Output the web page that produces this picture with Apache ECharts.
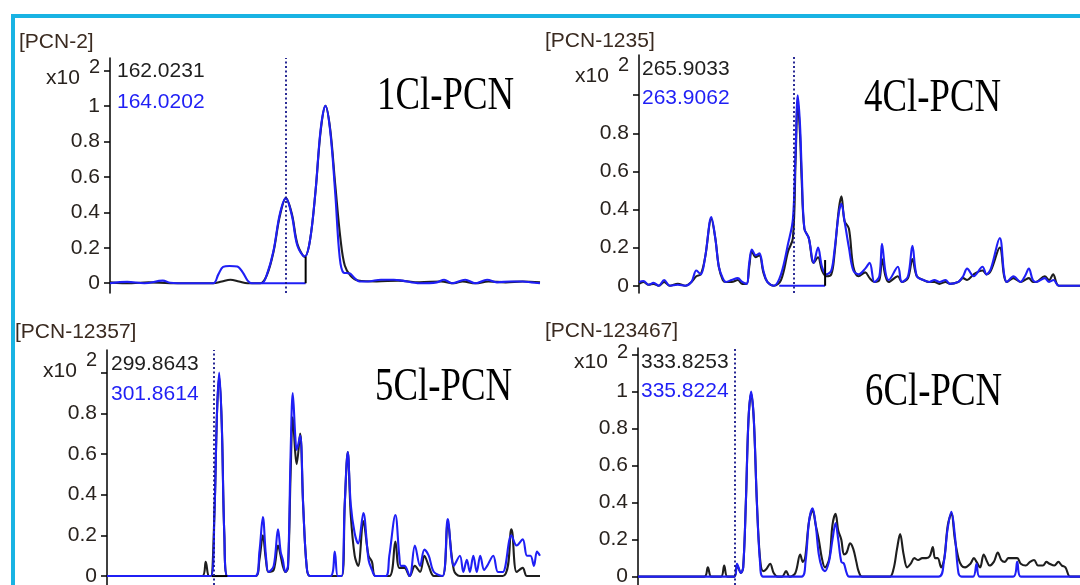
<!DOCTYPE html>
<html lang="en">
<head>
<meta charset="UTF-8">
<title>PCN extracted ion chromatograms</title>
<script src="https://cdn.jsdelivr.net/npm/echarts@6/dist/echarts.min.js"></script>
<style>
  html, body { margin: 0; padding: 0; background: #fff; }
  #main { width: 1080px; height: 585px; }
</style>
</head>
<body>
<div id="main"></div>
<script>
// x = relative retention position across each panel (0-100), y = abundance (x10^2)

// [PCN-2]  162.0231 / 164.0202
var p1Black = [[0,0.005],[5,0],[9,0.005],[14,0],[20,0],[24,0],[26,0.01],[28,0.02],[30,0.01],[32,0],[35,0],
  [36.5,0.047],[38,0.175],[39.5,0.38],[40.9,0.48],[42.3,0.39],[43.6,0.22],[45.3,0.15],[46.5,0.24],[47.8,0.52],
  [49,0.86],[50.1,1.0],[51.2,0.87],[52.4,0.55],[53.6,0.25],[54.6,0.1],[56,0.04],[57.7,0.015],[62,0.01],[67,0.015],
  [72,0.005],[77,0.01],[80,0],[82,0.01],[85,0],[88,0.01],[92,0.005],[96,0.01],[100,0.005]];
var p1Blue = [[0,0],[4,0.008],[8,0],[12.3,0.015],[14,0.003],[18,0],[24,0],[25.2,0.05],[26.3,0.092],[27.8,0.097],
  [29.6,0.094],[30.9,0.06],[32,0.015],[33,0],[35.3,0],[36.5,0.05],[38,0.18],[39.5,0.39],[40.9,0.48],[42.3,0.38],
  [43.6,0.21],[45.3,0.15],[46.5,0.24],[47.8,0.52],[49,0.87],[50.1,1.0],[51.2,0.86],[52.4,0.5],[53.4,0.15],
  [54.3,0.06],[55.8,0.055],[56.8,0.03],[58,0.01],[60,0.01],[63,0.02],[66,0.02],[68,0.015],[72,0],[76,0.005],
  [77.7,0.02],[79.5,0],[82.6,0.02],[85,0],[87.7,0.02],[90,0.005],[93,0.01],[96,0.01],[98,0.005],[100,0]];
var p1BaseBlue = [[35.3,0],[45.5,0]];
var p1BaseDrop = [[45.5,0],[45.5,0.15]];

// [PCN-1235]  265.9033 / 263.9062
var p2Black = [[0,0.01],[1,0.02],[2.2,0.005],[3.3,0.01],[4.5,0],[5.7,0.02],[7,0],[8.8,0.01],[10.5,0],[11.9,0.02],
  [13,0.05],[14,0.06],[15,0.15],[16.4,0.35],[17.3,0.25],[18.1,0.1],[19,0.03],[19.7,0.02],[21,0.02],[22.4,0.03],
  [23.4,0.01],[24.4,0.01],[25,0.1],[25.6,0.18],[26.5,0.15],[27.3,0.16],[28.2,0.07],[29.1,0.02],[30.6,0],[32.2,0.03],
  [33.8,0.18],[34.9,0.25],[35.5,0.65],[36,0.97],[36.5,0.8],[36.9,0.55],[37.5,0.3],[38.5,0.25],[39.6,0.12],
  [40.6,0.15],[41.5,0.08],[42.5,0.05],[43.6,0.06],[44.3,0.16],[45.3,0.4],[45.9,0.47],[46.6,0.34],[47.6,0.3],
  [48.6,0.1],[49.8,0.05],[51.3,0.07],[52.3,0.04],[53.4,0.02],[54.5,0.03],[55.1,0.14],[55.9,0.05],[56.6,0.02],
  [58.7,0.05],[59.6,0.02],[61,0.04],[62,0.14],[63,0.05],[64.5,0.03],[65.8,0.02],[67,0.02],[68.1,0.01],[69.5,0.02],
  [70.5,0.01],[72.4,0.02],[73.5,0.04],[74.4,0.03],[75.9,0.06],[77.9,0.08],[78.8,0.06],[79.8,0.08],[81.8,0.2],
  [82.8,0.05],[83.4,0.02],[84.9,0.04],[86.5,0.02],[87.5,0.03],[88.4,0.04],[89.3,0.02],[90,0.02],[92,0.05],
  [93,0.03],[93.9,0.06],[95.2,0],[100,0]];
var p2Blue = [[0,0.02],[1,0.025],[2.2,0.005],[3.3,0.015],[4.5,0],[5.7,0.03],[7,0],[8.8,0.005],[10.5,0],[11.9,0.02],
  [13,0.08],[14,0.06],[15,0.15],[16.4,0.36],[17.3,0.25],[18.1,0.1],[19,0.04],[19.7,0.02],[21,0.03],[22.4,0.04],
  [23.4,0.02],[24.4,0.01],[25,0.12],[25.6,0.19],[26.5,0.16],[27.3,0.17],[28.2,0.08],[29.1,0.02],[30.6,0],[32.2,0.06],
  [33.8,0.22],[34.9,0.35],[35.5,0.7],[36,1.0],[36.5,0.85],[36.9,0.6],[37.5,0.3],[38.5,0.25],[39.6,0.12],
  [40.6,0.2],[41.5,0.1],[42.5,0.06],[43.6,0.08],[44.3,0.18],[45.3,0.38],[45.9,0.43],[46.6,0.34],[47.6,0.2],
  [48.6,0.08],[49.8,0.06],[51.3,0.09],[52.3,0.12],[53.4,0.02],[54.5,0.05],[55.1,0.22],[55.9,0.07],[56.6,0.03],
  [58.7,0.1],[59.6,0.02],[61,0.05],[62,0.21],[63,0.05],[64.5,0.03],[65.8,0.02],[67,0.03],[68.1,0.02],[69.5,0.03],
  [70.5,0.01],[72.4,0.02],[73.5,0.05],[74.4,0.09],[75.9,0.05],[77.9,0.1],[78.8,0.06],[79.8,0.09],[81.8,0.25],
  [82.8,0.06],[83.4,0.02],[84.9,0.05],[86.5,0.02],[87.5,0.05],[88.4,0.09],[89.3,0.03],[90,0.02],[92,0.04],
  [93,0.02],[94,0.03],[95.2,0],[100,0]];
var p2BaseBlue = [[31.8,0],[42.2,0]];
var p2BaseDrop = [[42.2,0],[42.2,0.135]];

// [PCN-12357]  299.8643 / 301.8614
var p3Black = [[0,0],[22,0],[22.8,0.07],[23.5,0],[24,0],[24.8,0.3],[25.4,0.8],[25.9,0.98],[26.5,0.75],[27.1,0.2],
  [27.8,0],[34.3,0],[35.2,0.08],[36,0.2],[36.7,0.08],[37.3,0.02],[38.5,0.03],[39.5,0.15],[40.1,0.1],[40.6,0.05],
  [41.2,0.02],[41.8,0.04],[42.4,0.5],[42.9,0.78],[43.5,0.6],[43.8,0.55],[44.6,0.7],[45.3,0.35],[46.1,0.05],
  [46.9,0],[54.2,0],[54.9,0.35],[55.6,0.61],[56.3,0.3],[57.2,0.1],[58,0.05],[59.2,0.27],[60.4,0.1],[61.2,0.07],
  [62,0],[65.2,0],[66.6,0.17],[67.5,0.04],[68.7,0.04],[69.9,0],[71.1,0.05],[72.3,0.02],[73.3,0.1],[74.3,0.05],
  [75.5,0],[77.5,0],[78.7,0.26],[80.1,0.03],[81.5,0],[91.4,0],[93.4,0.23],[94.6,0.02],[96,0.04],[97,0],[100,0]];
var p3Blue = [[0,0],[24,0],[24.8,0.3],[25.4,0.8],[25.9,1.0],[26.5,0.75],[27.1,0.2],[27.8,0],[34.3,0],[35.2,0.12],
  [36,0.29],[36.7,0.1],[37.3,0.02],[38.5,0.05],[39.5,0.23],[40.1,0.12],[40.6,0.08],[41.2,0.02],[41.8,0.05],
  [42.4,0.6],[42.9,0.9],[43.5,0.68],[43.8,0.62],[44.6,0.69],[45.3,0.35],[46.1,0.05],[46.9,0],[51.6,0],[52.6,0.12],
  [53.3,0],[54.2,0],[54.9,0.35],[55.6,0.61],[56.3,0.35],[57.2,0.21],[58,0.16],[59.2,0.31],[60.4,0.08],[61.2,0.03],
  [62,0],[64.4,0],[65.2,0.1],[66.6,0.3],[67.5,0.1],[67.9,0.05],[68.7,0.05],[69.9,0],[71.1,0.15],[72.3,0.05],
  [73.3,0.13],[74.3,0.1],[75.5,0.02],[77.5,0],[78.7,0.28],[80.1,0.05],[81.5,0.1],[82.3,0.02],[83.1,0.08],
  [83.8,0.02],[84.6,0.1],[85.4,0.02],[86.2,0.1],[87.1,0.03],[87.8,0.05],[89.2,0.1],[90.3,0.02],[91.4,0.02],
  [93.4,0.2],[94.6,0.15],[96,0.18],[97,0.1],[97.8,0.1],[98.6,0.05],[99.3,0.12],[100,0.1]];
var p3BaseBlack = [[24.2,0],[27.8,0]];

// [PCN-123467]  333.8253 / 335.8224
var p4Black = [[0,0],[15,0],[15.8,0.05],[16.6,0],[18.8,0],[19.5,0.06],[20.2,0],[21.8,0],[22.4,0.06],[23.3,0.02],
  [23.8,0.05],[24.4,0.4],[25,0.85],[25.6,0.99],[26.2,0.85],[26.9,0.4],[27.6,0.1],[28.3,0.03],[29,0.04],[29.9,0.07],
  [30.7,0.02],[31.6,0],[32.6,0],[33.5,0.03],[34.3,0],[35.6,0.02],[36.7,0.12],[37.3,0.08],[37.8,0.1],[38.7,0.3],
  [39.5,0.36],[40.2,0.28],[40.9,0.2],[41.6,0.1],[42.3,0.05],[43.3,0.1],[44,0.28],[44.7,0.34],[45.3,0.25],[46,0.2],
  [46.6,0.12],[47.2,0.13],[48,0.18],[48.7,0.15],[49.4,0.08],[49.9,0.03],[50.7,0],[56.9,0],[57.8,0.04],[58.6,0.15],
  [59.3,0.23],[60.1,0.12],[60.9,0.05],[61.7,0.07],[62.5,0.1],[63.4,0.09],[64.3,0.1],[65.2,0.1],[66,0.11],
  [66.7,0.16],[67.2,0.1],[67.8,0.1],[68.6,0.05],[69.3,0.1],[70.1,0.28],[70.9,0.34],[71.7,0.2],[72.5,0.1],
  [73.2,0.06],[74,0.05],[75.2,0.07],[76,0.1],[76.6,0.08],[77.4,0.05],[78.2,0.12],[79,0.08],[79.5,0.06],[80.5,0.08],
  [81.4,0.13],[82.2,0.09],[83,0.08],[83.8,0.1],[84.6,0.1],[85.8,0.1],[86.6,0.07],[87.7,0.06],[88.7,0.08],[89.6,0.09],
  [90.5,0.06],[91.6,0.06],[92.4,0.08],[93.1,0.07],[94.2,0.06],[95.1,0.08],[95.9,0.06],[96.7,0.05],[97.8,0],[100,0]];
var p4Blue = [[0,0],[21.8,0],[22.4,0.07],[23.3,0.02],[23.8,0.05],[24.4,0.4],[25,0.85],[25.6,1.0],[26.2,0.85],
  [26.9,0.4],[27.6,0.08],[28.3,0],[37,0],[37.9,0.08],[38.7,0.3],[39.5,0.37],[40.2,0.28],[40.9,0.12],[41.6,0.05],
  [42.3,0.03],[43.2,0.08],[44,0.2],[44.7,0.29],[45.3,0.2],[46,0.08],[46.6,0.07],[47.2,0.02],[47.8,0],[68,0],
  [69.2,0.08],[70,0.25],[70.9,0.35],[71.7,0.22],[72.5,0.02],[73.2,0],[75.8,0],[76.6,0.07],[77.3,0],[84.9,0],
  [85.8,0.08],[86.6,0],[100,0]];

var panelNames = ['[PCN-2]', '[PCN-1235]', '[PCN-12357]', '[PCN-123467]'];
var ionBlack = ['162.0231', '265.9033', '299.8643', '333.8253'];
var ionBlue = ['164.0202', '263.9062', '301.8614', '335.8224'];
var groupNames = ['1Cl-PCN', '4Cl-PCN', '5Cl-PCN', '6Cl-PCN'];
var markerX = [40.9, 35.2, 24.6, 22.0];
var yMin = [-0.055, -0.038, -0.044, -0.045];
var yMax = [1.27, 1.211, 1.111, 1.236];
var labelVals = [[0, 0.2, 0.4, 0.6, 0.8, 1, 1.2], [0, 0.2, 0.4, 0.6, 0.8, 1.143], [0, 0.2, 0.4, 0.6, 0.8, 1.047], [0, 0.2, 0.4, 0.6, 0.8, 1, 1.2]];
var tickVals = [[0, 0.2, 0.4, 0.6, 0.8, 1, 1.2], [0, 0.2, 0.4, 0.6, 0.8, 1], [0, 0.2, 0.4, 0.6, 0.8, 1], [0, 0.2, 0.4, 0.6, 0.8, 1, 1.2]];
var expVal = [1.2, 1.143, 1.047, 1.2];

var blackTraces = [p1Black, p2Black, p3Black, p4Black];
var blueTraces = [p1Blue, p2Blue, p3Blue, p4Blue];

var SANS = '"Liberation Sans", Arial, sans-serif';
var SERIF = '"Liberation Serif", "Times New Roman", serif';
var BLACK = '#1e1e1e';
var BLUE = '#1f1ff5';
var TXT = '#28221e';

// panel boxes (pixels)
var boxes = [
  { left: 110, top: 58, width: 430, height: 235 },
  { left: 639, top: 55, width: 441, height: 238 },
  { left: 107, top: 350, width: 433, height: 235 },
  { left: 638, top: 348, width: 442, height: 237 }
];
var ionPos = [[117, 61, 10], [642, 59, 8], [111, 354, 9], [641, 352, 8]];
var namePos = [[19, 32], [545, 31], [15, 322], [545, 321]];
var groupPos = [[377, 97], [864, 99], [375, 388], [865, 393]];

var grids = [], xAxes = [], yAxes = [], series = [], titles = [], graphics = [];

graphics.push({ type: 'rect', shape: { x: 11, y: 14, width: 1069, height: 4 }, style: { fill: '#19b3e3' } });
graphics.push({ type: 'rect', shape: { x: 11, y: 14, width: 4, height: 571 }, style: { fill: '#19b3e3' } });

for (var i = 0; i < 4; i++) {
  var b = boxes[i];
  grids.push({ left: b.left, top: b.top, width: b.width, height: b.height, outerBoundsMode: 'none' });
  xAxes.push({ type: 'value', gridIndex: i, min: 0, max: 100, show: false });
  (function (k) {
    yAxes.push({
      type: 'value', gridIndex: k, min: yMin[k], max: yMax[k],
      axisLine: { show: true, onZero: false, lineStyle: { color: '#000', width: 1.5 } },
      axisTick: { show: true, length: 6, customValues: tickVals[k], lineStyle: { color: '#000', width: 1.5 } },
      splitLine: { show: false },
      axisLabel: {
        customValues: labelVals[k], margin: 10,
        fontFamily: SANS, fontSize: 21, color: TXT,
        formatter: function (v) {
          if (Math.abs(v - expVal[k]) < 1e-6) return '{a|x10}{b|2}';
          return String(Math.round(v * 10) / 10);
        },
        rich: {
          a: { fontFamily: SANS, fontSize: 21, color: TXT, padding: [16, 9, 0, 0], verticalAlign: 'bottom' },
          b: { fontFamily: SANS, fontSize: 20, color: TXT, padding: [6, 0, 0, 0], verticalAlign: 'top' }
        }
      }
    });
  })(i);

  titles.push({
    text: panelNames[i], left: namePos[i][0], top: namePos[i][1], padding: 0,
    textStyle: { fontFamily: SANS, fontSize: 21, fontWeight: 'normal', color: '#3a2a20' }
  });
  titles.push({
    text: ionBlack[i], subtext: ionBlue[i], left: ionPos[i][0], top: ionPos[i][1], padding: 0, itemGap: ionPos[i][2],
    textStyle: { fontFamily: SANS, fontSize: 21, fontWeight: 'normal', color: BLACK, lineHeight: 21 },
    subtextStyle: { fontFamily: SANS, fontSize: 21, color: BLUE, lineHeight: 21 }
  });

  graphics.push({
    type: 'text', x: groupPos[i][0], y: groupPos[i][1], scaleX: 0.8,
    style: { text: groupNames[i], font: '46px ' + SERIF, fill: '#000', verticalAlign: 'middle' }
  });

  series.push({
    type: 'line', xAxisIndex: i, yAxisIndex: i, data: blackTraces[i], showSymbol: false, smooth: 0.35,
    lineStyle: { color: BLACK, width: 2.1 }, silent: true, z: 2
  });
  series.push({
    type: 'line', xAxisIndex: i, yAxisIndex: i, data: blueTraces[i], showSymbol: false, smooth: 0.35,
    lineStyle: { color: BLUE, width: 2.1 }, silent: true, z: 3,
    markLine: {
      symbol: 'none', silent: true, label: { show: false },
      lineStyle: { color: '#15158a', type: [2, 2.5], width: 1.8 },
      data: [{ xAxis: markerX[i] }]
    }
  });
}

// integration baselines
series.push({ type: 'line', xAxisIndex: 0, yAxisIndex: 0, data: p1BaseBlue, showSymbol: false, lineStyle: { color: BLUE, width: 2 }, z: 4 });
series.push({ type: 'line', xAxisIndex: 0, yAxisIndex: 0, data: p1BaseDrop, showSymbol: false, lineStyle: { color: '#000', width: 2 }, z: 4 });
series.push({ type: 'line', xAxisIndex: 1, yAxisIndex: 1, data: p2BaseBlue, showSymbol: false, lineStyle: { color: BLUE, width: 2 }, z: 4 });
series.push({ type: 'line', xAxisIndex: 1, yAxisIndex: 1, data: p2BaseDrop, showSymbol: false, lineStyle: { color: '#000', width: 2 }, z: 4 });
series.push({ type: 'line', xAxisIndex: 2, yAxisIndex: 2, data: p3BaseBlack, showSymbol: false, lineStyle: { color: '#000', width: 2 }, z: 4 });

var chart = echarts.init(document.getElementById('main'), null, { renderer: 'canvas' });
chart.setOption({
  animation: false,
  backgroundColor: '#fff',
  title: titles,
  grid: grids,
  xAxis: xAxes,
  yAxis: yAxes,
  series: series,
  graphic: graphics
});
</script>
</body>
</html>
